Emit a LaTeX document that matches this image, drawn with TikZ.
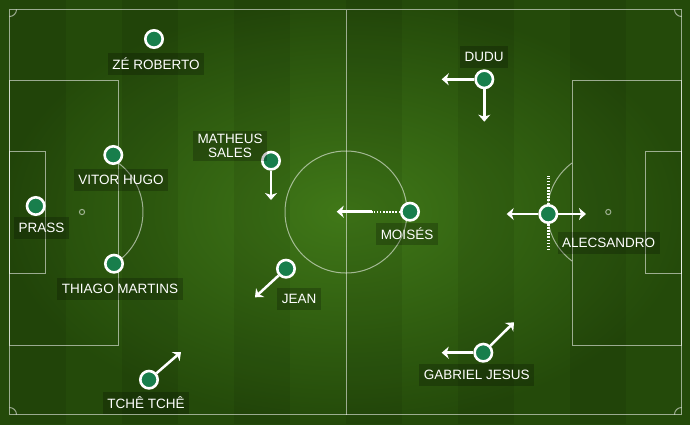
\documentclass[tikz,border=0pt]{standalone}
\usepackage{fontspec}
\setmainfont{Liberation Sans}
\usetikzlibrary{arrows.meta,positioning,backgrounds}

\definecolor{grassdark}{RGB}{36,74,10}
\definecolor{grasslight}{RGB}{64,120,24}
\definecolor{playergreen}{RGB}{24,126,76}

\begin{document}
\begin{tikzpicture}[x=1pt, y=-1pt,
        player/.style={circle, draw=white, line width=2.6pt, fill=playergreen, minimum size=17.4pt, inner sep=0pt},
        tag/.style={fill=black, fill opacity=0.22, text opacity=1, text=white, font=\fontsize{13.5}{14.5}\selectfont, inner xsep=4.5pt, minimum height=22pt},
        runarrow/.style={draw=white, line width=2.5pt, -{Stealth[length=7pt, width=12pt, inset=2pt]}},
        dotline/.style={draw=white, line width=2.4pt, dash pattern=on 1.5pt off 1.6pt},
        pitch/.style={draw=white, draw opacity=0.55, line width=1pt},
    ]
        \useasboundingbox (0,0) rectangle (690,424);

        %Grass
        \shade[inner color=grasslight, outer color=grassdark] (0,0) rectangle (690,424);
        \foreach \i in {0,2,...,10}
            \fill[black, opacity=0.07] ({10+56*\i},0) rectangle ({66+56*\i},424);

        %Pitch
        \draw[pitch] (9.5,9.5) rectangle (681.5,414.5);
        \draw[pitch] (346,9.5) -- (346,414.5);
        \draw[pitch] (346,212) circle[radius=61];
        \draw[pitch] (9.5,80) rectangle (118.3,345);
        \draw[pitch] (9.5,151.7) rectangle (45.3,273);
        \draw[pitch] (572.3,80) rectangle (681.5,345);
        \draw[pitch] (645.3,151.7) rectangle (681.5,273);
        \draw[pitch] (82,212) circle[radius=2.6];
        \draw[pitch] (608.3,212) circle[radius=2.6];
        \draw[pitch] (82,212) ++(-53.5:61) arc[start angle=-53.5, end angle=53.5, radius=61];
        \draw[pitch] (608.3,212) ++(126.5:61) arc[start angle=126.5, end angle=233.5, radius=61];
        \draw[pitch] (16.5,9.5) arc[start angle=0, end angle=90, radius=7];
        \draw[pitch] (674.5,9.5) arc[start angle=180, end angle=90, radius=7];
        \draw[pitch] (9.5,407.5) arc[start angle=-90, end angle=0, radius=7];
        \draw[pitch] (674.5,414.5) arc[start angle=180, end angle=270, radius=7];

        %Nodes
        \node[player] (zeroberto) at (154,39) {};
        \node[tag] (zerobertoTag) at (156,63.5) {ZÉ ROBERTO};
        \node[player] (vitorhugo) at (113.3,155) {};
        \node[tag] (vitorhugoTag) at (121,179.5) {VITOR HUGO};
        \node[player] (prass) at (35.7,206) {};
        \node[tag] (prassTag) at (41.5,228) {PRASS};
        \node[player] (thiago) at (114,263.7) {};
        \node[tag] (thiagoTag) at (120,288.5) {THIAGO MARTINS};
        \node[player] (tcheche) at (149,379.7) {};
        \node[tag] (tchecheTag) at (146,403) {TCHÊ TCHÊ};
        \node[player] (matheus) at (271,160.7) {};
        \node[tag, align=center, inner ysep=3pt, font=\fontsize{13.5}{14}\selectfont] (matheusTag) at (230,146) {MATHEUS\\SALES};
        \node[player] (jean) at (286,268.7) {};
        \node[tag] (jeanTag) at (299,299) {JEAN};
        \node[player] (moises) at (410,211.7) {};
        \node[tag] (moisesTag) at (407,233.5) {MOISÉS};
        \node[player] (dudu) at (484.3,79.3) {};
        \node[tag] (duduTag) at (484,57) {DUDU};
        \node[player] (alecsandro) at (548.3,214) {};
        \node[tag] (alecsandroTag) at (608.7,242.5) {ALECSANDRO};
        \node[player] (gabriel) at (483.3,352.7) {};
        \node[tag] (gabrielTag) at (476.7,374.5) {GABRIEL JESUS};

        \coordinate (tchechend) at (181,352);
        \coordinate (matheusEnd) at (271,200);
        \coordinate (jeanEnd) at (255,297.3);
        \coordinate (moisesMid) at (371.7,211.7);
        \coordinate (moisesEnd) at (336.7,211.7);
        \coordinate (duduLeft) at (441.7,79.3);
        \coordinate (duduDown) at (484.3,121.7);
        \coordinate (alecLeft) at (506.7,214);
        \coordinate (alecRight) at (586,214);
        \coordinate (alecTop) at (548.3,175.7);
        \coordinate (alecBottom) at (548.3,251);
        \coordinate (gabrielLeft) at (441.7,352.7);
        \coordinate (gabrielEnd) at (514,322.3);

        %Lines
        \draw[runarrow] (tcheche) -- (tchechend);
        \draw[runarrow] (matheus) -- (matheusEnd);
        \draw[runarrow] (jean) -- (jeanEnd);
        \draw[dotline] (moises) -- (moisesMid);
        \draw[runarrow] (moisesMid) -- (moisesEnd);
        \draw[runarrow] (dudu) -- (duduLeft);
        \draw[runarrow] (dudu) -- (duduDown);
        \draw[dotline] (alecsandro) -- (alecTop);
        \draw[dotline] (alecsandro) -- (alecBottom);
        \draw[runarrow] (alecsandro) -- (alecLeft);
        \draw[runarrow] (alecsandro) -- (alecRight);
        \draw[runarrow] (gabriel) -- (gabrielLeft);
        \draw[runarrow] (gabriel) -- (gabrielEnd);
    \end{tikzpicture}
\end{document}
